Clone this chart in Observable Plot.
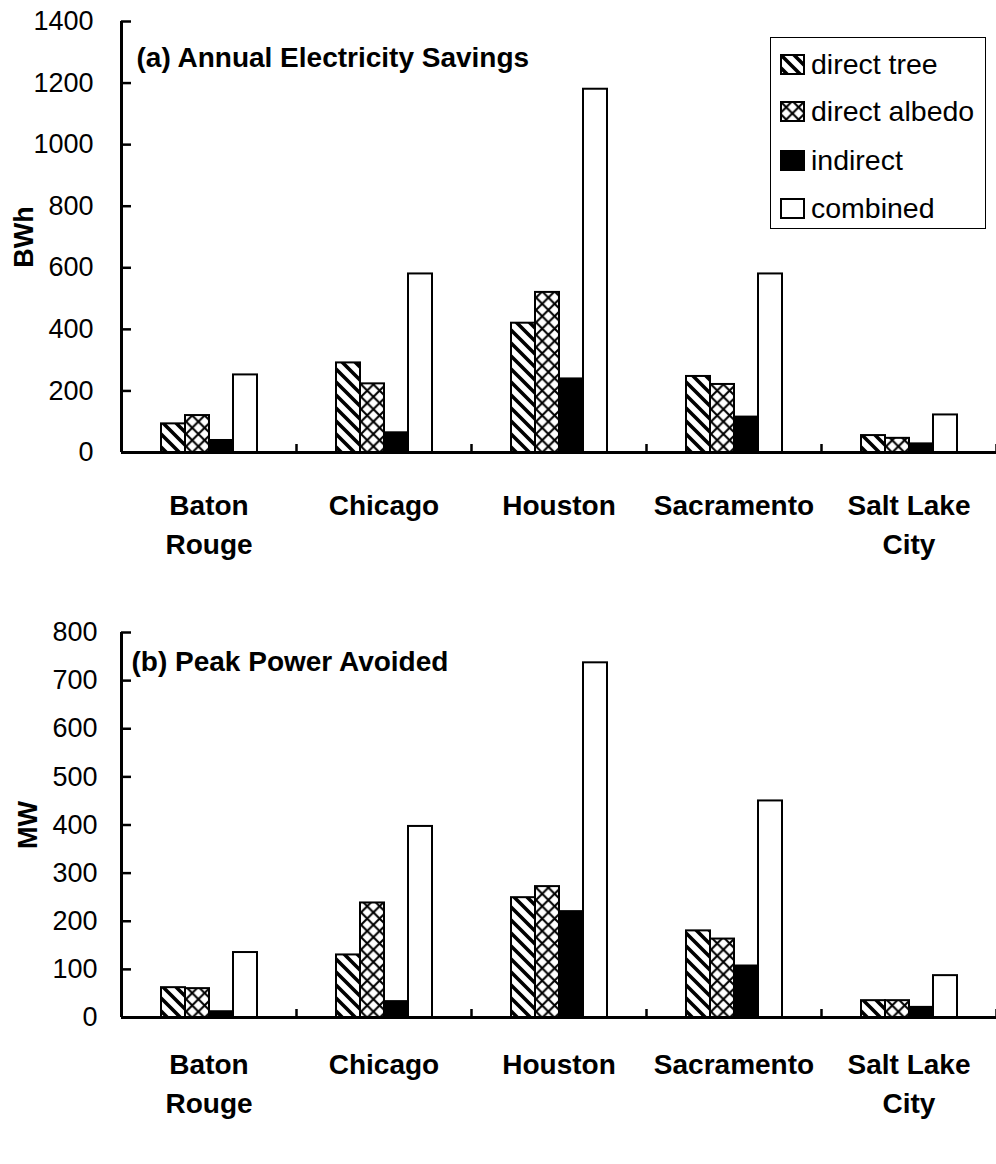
<!DOCTYPE html>
<html>
<head>
<meta charset="utf-8">
<script src="https://cdn.jsdelivr.net/npm/d3@7"></script>
<script src="https://cdn.jsdelivr.net/npm/@observablehq/plot@0.6"></script>
<style>
  html, body { margin: 0; padding: 0; background: white; }
  #wrap { position: relative; width: 996px; height: 1164px; overflow: hidden; font-family: "Liberation Sans", Arial, sans-serif; }
  #wrap svg.plot { display: block; }
  #legend { position: absolute; left: 770px; top: 37px; width: 214px; height: 190px; border: 1.5px solid black; background: white; }
  .lrow { position: absolute; left: 9px; height: 30px; display: flex; align-items: center; font-size: 28.5px; color: black; white-space: nowrap; }
  .lrow svg { margin-right: 6px; flex: none; }
</style>
</head>
<body>
<svg width="0" height="0" style="position:absolute">
  <defs>
    <pattern id="hatch" patternUnits="userSpaceOnUse" width="13" height="13">
      <rect width="13" height="13" fill="white"/>
      <path d="M0,0 L13,13 M-2,11 L2,15 M11,-2 L15,2" stroke="black" stroke-width="3.6" stroke-linecap="square"/>
    </pattern>
    <pattern id="cross" patternUnits="userSpaceOnUse" width="12.4" height="12.4">
      <rect width="12.4" height="12.4" fill="white"/>
      <path d="M0,0 L12.4,12.4 M12.4,0 L0,12.4" stroke="black" stroke-width="2.1"/>
    </pattern>
  </defs>
</svg>
<div id="wrap"></div>
<script>
const cities = ["Baton Rouge", "Chicago", "Houston", "Sacramento", "Salt Lake City"];
const cityLabels = ["Baton\nRouge", "Chicago", "Houston", "Sacramento", "Salt Lake\nCity"];
const series = ["direct tree", "direct albedo", "indirect", "combined"];
const seriesFills = ["url(#hatch)", "url(#cross)", "black", "white"];

// (a) Annual Electricity Savings, BWh
const energyTree = [93, 291, 420, 247, 55];
const energyAlbedo = [120, 223, 520, 221, 46];
const energyIndirect = [39, 64, 239, 115, 28];
const energyCombined = [252, 580, 1180, 580, 122];
const energyTicks = [0, 200, 400, 600, 800, 1000, 1200, 1400];

// (b) Peak Power Avoided, MW
const peakTree = [62, 130, 249, 180, 35];
const peakAlbedo = [60, 238, 272, 163, 35];
const peakIndirect = [12, 33, 220, 107, 21];
const peakCombined = [135, 397, 737, 450, 87];
const peakTicks = [0, 100, 200, 300, 400, 500, 600, 700, 800];

const W = 996, ML = 121, MR = 0;
const step = (W - ML - MR) / cities.length;

function panel({values, ticks, title, unit, height, marginTop, marginBottom, labelPad, tickPad, unitDx, titleDx, titleDy}) {
  const data = cities.flatMap((c, i) => series.map((s, j) => ({city: c, series: s, value: values[j][i]})));
  return Plot.plot({
    width: W, height, marginLeft: ML, marginRight: MR, marginTop, marginBottom,
    style: {fontFamily: '"Liberation Sans", Arial, sans-serif', color: "black", background: "white", overflow: "visible"},
    fx: {domain: cities, padding: 0, label: null},
    x: {domain: series, paddingInner: 0, paddingOuter: 1.53, axis: null},
    y: {domain: [ticks[0], ticks[ticks.length - 1]], label: null},
    color: {domain: series, range: seriesFills},
    marks: [
      Plot.barY(data, {fx: "city", x: "series", y: "value", fill: "series", stroke: "black", strokeWidth: 2}),
      Plot.ruleY([0], {strokeWidth: 3}),
      Plot.ruleX([0], {x: null, fx: () => cities[0], dx: -step / 2, strokeWidth: 3}),
      Plot.axisY({ticks, tickSize: 0, tickPadding: tickPad, tickFormat: (d) => String(d), fontSize: 27, label: null}),
      Plot.axisY({ticks, tickSize: -10, tickFormat: () => "", strokeWidth: 2.5, label: null}),
      Plot.axisFx({anchor: "bottom", tickSize: -8, dx: step / 2, tickFormat: () => "", strokeWidth: 2.5, label: null}),
      Plot.axisFx({anchor: "bottom", tickSize: 0, tickPadding: labelPad, tickFormat: (d) => cityLabels[cities.indexOf(d)],
                   fontSize: 28, fontWeight: "bold", lineHeight: 1.42, label: null}),
      Plot.text([title], {fx: () => cities[0], frameAnchor: "top-left", textAnchor: "start", lineAnchor: "top",
                          dx: titleDx, dy: titleDy, fontSize: 28, fontWeight: "bold"}),
      Plot.text([unit], {fx: () => cities[0], frameAnchor: "left", textAnchor: "middle", lineAnchor: "middle",
                         rotate: -90, dx: unitDx, fontSize: 27, fontWeight: "bold"})
    ]
  });
}

const wrap = document.getElementById("wrap");
const topPanel = panel({
  values: [energyTree, energyAlbedo, energyIndirect, energyCombined], ticks: energyTicks,
  title: "(a) Annual Electricity Savings", unit: "BWh",
  height: 590, marginTop: 21, marginBottom: 138, labelPad: 34, tickPad: 28, unitDx: -97, titleDx: 15, titleDy: 26
});
const bottomPanel = panel({
  values: [peakTree, peakAlbedo, peakIndirect, peakCombined], ticks: peakTicks,
  title: "(b) Peak Power Avoided", unit: "MW",
  height: 574, marginTop: 42, marginBottom: 147, labelPad: 28, tickPad: 24, unitDx: -93, titleDx: 10, titleDy: 19
});
topPanel.classList.add("plot"); bottomPanel.classList.add("plot");
wrap.appendChild(topPanel);
wrap.appendChild(bottomPanel);

// legend
const legend = document.createElement("div");
legend.id = "legend";
const rowTops = [11, 58, 107, 155];
series.forEach((s, i) => {
  const row = document.createElement("div");
  row.className = "lrow";
  row.style.top = rowTops[i] + "px";
  row.innerHTML = `<svg width="25" height="21"><rect x="1" y="1" width="23" height="19" fill="${seriesFills[i]}" stroke="black" stroke-width="2"/></svg><span>${s}</span>`;
  legend.appendChild(row);
});
wrap.appendChild(legend);
</script>
</body>
</html>
